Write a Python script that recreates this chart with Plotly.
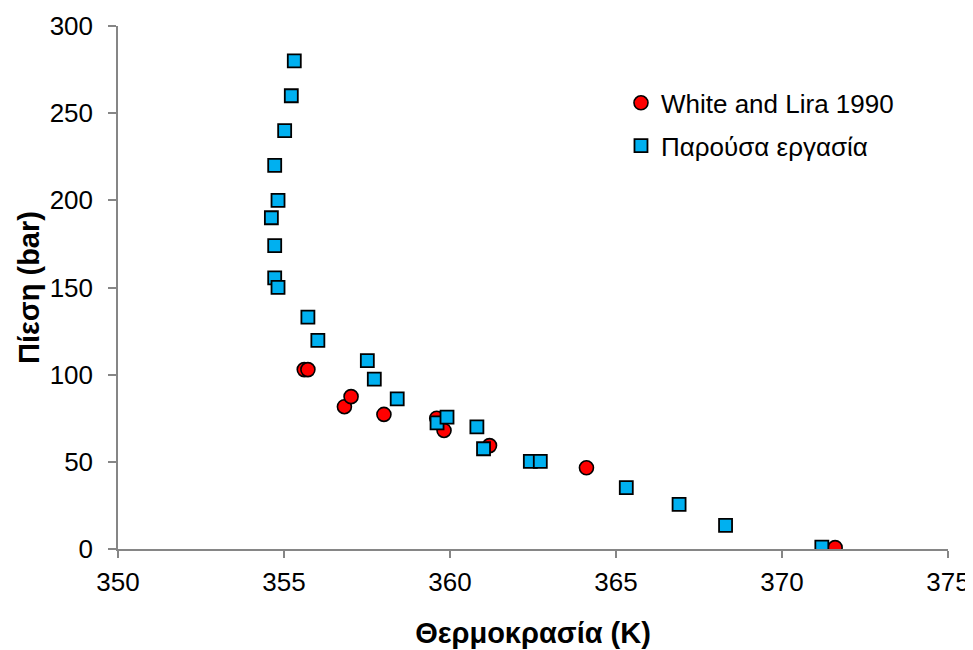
import plotly.graph_objects as go

# White and Lira 1990
wl_T = [355.61, 355.72, 356.82, 357.02, 358.01, 359.60, 359.82, 361.19, 364.11, 371.60]
wl_P = [102.9, 102.9, 81.6, 87.4, 77.2, 75.0, 68.0, 59.3, 46.6, 0.8]

# Παρούσα εργασία
pw_T = [355.31, 355.22, 355.02, 354.72, 354.82, 354.62, 354.72, 354.72, 354.82,
        355.72, 356.02, 357.51, 357.72, 358.41, 359.61, 359.91, 360.81, 361.01,
        362.42, 362.72, 365.31, 366.90, 368.30, 371.20]
pw_P = [280.0, 260.0, 240.0, 220.0, 200.0, 190.0, 174.0, 155.5, 150.1,
        133.0, 119.7, 108.0, 97.5, 86.1, 72.3, 75.7, 70.0, 57.5,
        50.3, 50.3, 35.2, 25.6, 13.5, 1.1]

x_ticks = [350, 355, 360, 365, 370, 375]
y_ticks = [0, 50, 100, 150, 200, 250, 300]

FONT = "Liberation Sans, Arial, sans-serif"
AXIS_COLOR = "#868686"

fig = go.Figure()
fig.add_trace(go.Scatter(
    x=wl_T, y=wl_P, mode="markers", name="White and Lira 1990",
    marker=dict(symbol="circle", size=14, color="#FF0000",
                line=dict(color="#000000", width=1.6)),
    legend="legend", showlegend=True,
))
fig.add_trace(go.Scatter(
    x=pw_T, y=pw_P, mode="markers", name="Παρούσα εργασία",
    marker=dict(symbol="square", size=13, color="#00B0F0",
                line=dict(color="#000000", width=1.8)),
    legend="legend2", showlegend=True,
))

fig.update_layout(
    width=973, height=650,
    margin=dict(l=110, r=33, t=18, b=109, autoexpand=False),
    paper_bgcolor="white", plot_bgcolor="white",
    showlegend=True,
    font=dict(family=FONT, size=26, color="#000000"),
    legend=dict(x=0.606, y=0.853, xanchor="left", yanchor="middle",
                bgcolor="rgba(0,0,0,0)", font=dict(size=26, family=FONT),
                itemwidth=30),
    legend2=dict(x=0.606, y=0.771, xanchor="left", yanchor="middle",
                 bgcolor="rgba(0,0,0,0)", font=dict(size=26, family=FONT),
                 itemwidth=30),
    xaxis=dict(
        range=[350, 375], tickvals=x_ticks, ticktext=[str(v) for v in x_ticks],
        showgrid=False, zeroline=False, automargin=False,
        showline=True, linecolor=AXIS_COLOR, linewidth=1.5,
        ticks="outside", ticklen=7, tickcolor=AXIS_COLOR, tickwidth=1.5,
        tickfont=dict(size=26, family=FONT), ticklabelstandoff=2,
        title=dict(text="<b>Θερμοκρασία (K)</b>", font=dict(size=29, family=FONT), standoff=27),
    ),
    yaxis=dict(
        range=[0, 300], tickvals=y_ticks, ticktext=[str(v) for v in y_ticks],
        showgrid=False, zeroline=False, automargin=False,
        showline=True, linecolor=AXIS_COLOR, linewidth=1.5,
        ticks="outside", ticklen=8, tickcolor=AXIS_COLOR, tickwidth=1.5,
        tickfont=dict(size=26, family=FONT), ticklabelstandoff=10,
        title=dict(text="<b>Πίεση (bar)</b>", font=dict(size=29, family=FONT), standoff=2),
    ),
)

fig.write_html("out.html")
